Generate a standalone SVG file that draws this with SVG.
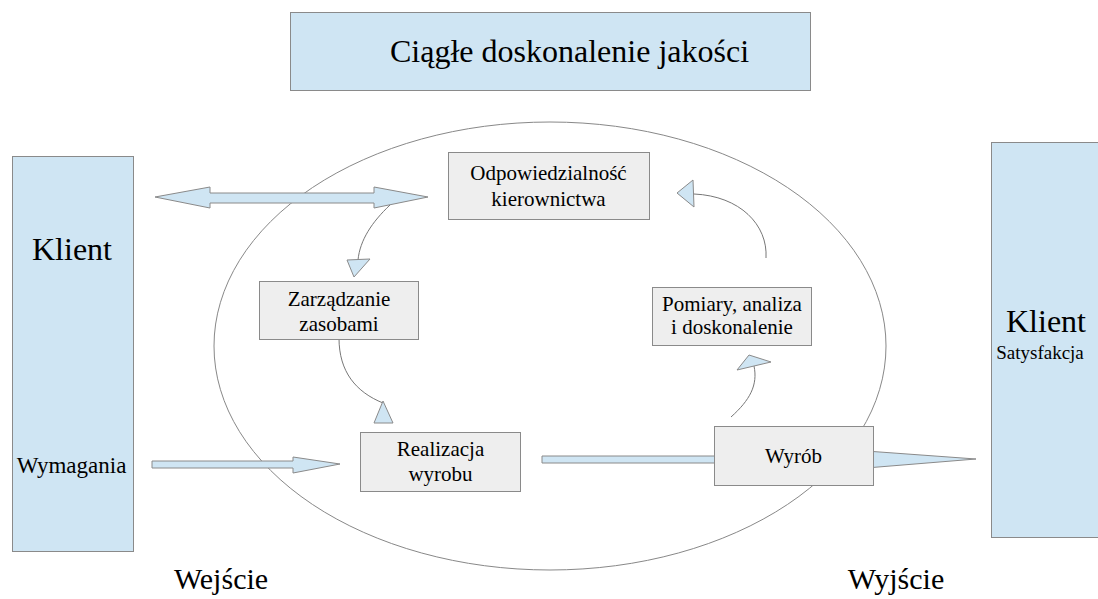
<svg xmlns="http://www.w3.org/2000/svg" width="1098" height="599" viewBox="0 0 1098 599">
<style>
.t{font-family:'Times New Roman',serif;fill:#000}
.blue{fill:#cfe5f3;stroke:#8a8a8a;stroke-width:1}
.box{fill:#eeeeee;stroke:#8a8a8a;stroke-width:1}
.ln{fill:none;stroke:#777;stroke-width:1}
.hd{fill:#cfe5f3;stroke:#8a8a8a;stroke-width:1}
</style>
<rect width="1098" height="599" fill="#fff"/>
<g id="title">
<rect class="blue" x="290.5" y="12.5" width="520" height="78"/>
<text class="t" x="390" y="62" font-size="32">Ciągłe doskonalenie jakości</text>
</g>
<g id="cycle">
<ellipse cx="550" cy="346" rx="336" ry="224" fill="none" stroke="#888" stroke-width="1"/>
</g>
<g id="klient-in">
<rect class="blue" x="12.5" y="156.5" width="121" height="395"/>
<text class="t" x="72" y="260" font-size="32" text-anchor="middle">Klient</text>
<text class="t" x="71.5" y="473" font-size="23" text-anchor="middle">Wymagania</text>
</g>
<g id="klient-out">
<rect class="blue" x="991.5" y="142.5" width="120" height="395"/>
<text class="t" x="1046" y="332" font-size="32" text-anchor="middle">Klient</text>
<text class="t" x="1040" y="359" font-size="19" text-anchor="middle">Satysfakcja</text>
</g>
<g id="connectors">
<polygon class="blue" points="155,197 210,187 210,193 374,193 374,187 428,197 374,208 374,203 210,203 210,208"/>
<polygon class="blue" points="152,461 293,461 293,457 340,464 293,473 293,468 152,468"/>
<polygon class="blue" points="542,456 866,456 866,451 976,459 866,468 866,463 542,463"/>
<path class="ln" d="M390,205 C372,222 360,240 358,260"/>
<polygon class="hd" points="347,260 370,259 354,277"/>
<path class="ln" d="M339,338 C339,372 356,392 383,403"/>
<polygon class="hd" points="383,401 374,423 393,423"/>
<path class="ln" d="M731,417 C750,400 758,385 754,366"/>
<polygon class="hd" points="737,370 749,355 771,362"/>
<path class="ln" d="M694,194 C740,196 768,225 766,258"/>
<polygon class="hd" points="677,193 693,180 694,207"/>
</g>
<g id="odpowiedzialnosc">
<rect class="box" x="448.5" y="152.5" width="201" height="67"/>
<text class="t" x="548.5" y="180" font-size="21" text-anchor="middle">Odpowiedzialność</text>
<text class="t" x="548.5" y="206" font-size="21" text-anchor="middle">kierownictwa</text>
</g>
<g id="zarzadzanie">
<rect class="box" x="259.5" y="281.5" width="159" height="58"/>
<text class="t" x="339" y="306" font-size="21" text-anchor="middle">Zarządzanie</text>
<text class="t" x="339" y="331" font-size="21" text-anchor="middle">zasobami</text>
</g>
<g id="realizacja">
<rect class="box" x="360.5" y="432.5" width="160" height="59"/>
<text class="t" x="440.5" y="456" font-size="21" text-anchor="middle">Realizacja</text>
<text class="t" x="440.5" y="481" font-size="21" text-anchor="middle">wyrobu</text>
</g>
<g id="pomiary">
<rect class="box" x="652.5" y="287.5" width="159" height="58"/>
<text class="t" x="732" y="311" font-size="21" text-anchor="middle">Pomiary, analiza</text>
<text class="t" x="732" y="334" font-size="21" text-anchor="middle">i doskonalenie</text>
</g>
<g id="wyrob">
<rect class="box" x="714.5" y="426.5" width="159" height="59"/>
<text class="t" x="793.5" y="463" font-size="21" text-anchor="middle">Wyrób</text>
</g>
<g id="labels">
<text class="t" x="221" y="589" font-size="30" text-anchor="middle">Wejście</text>
<text class="t" x="896" y="589" font-size="30" text-anchor="middle">Wyjście</text>
</g>
</svg>
